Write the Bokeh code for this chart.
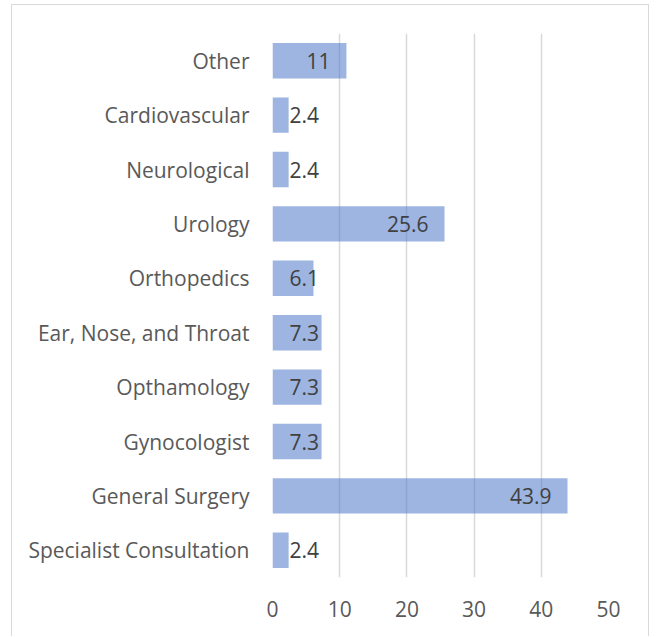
from bokeh.plotting import figure
from bokeh.models import ColumnDataSource, FixedTicker
from bokeh.core.properties import value
from bokeh.embed import file_html
from bokeh.resources import INLINE

categories = ["Specialist Consultation", "General Surgery", "Gynocologist", "Opthamology",
              "Ear, Nose, and Throat", "Orthopedics", "Urology", "Neurological",
              "Cardiovascular", "Other"]
values = [2.4, 43.9, 7.3, 7.3, 7.3, 6.1, 25.6, 2.4, 2.4, 11]
x_ticks = [0, 10, 20, 30, 40, 50]

FONT = "Open Sans"
FS = "21px"

short = [v < 10 for v in values]
src = ColumnDataSource(dict(
    cat=categories,
    val=values,
    lx=[0 if s else v for s, v in zip(short, values)],
    align=["left" if s else "right" for s in short],
    xoff=[17 if s else -16 for s in short],
    lab=[f"{v:g}" for v in values],
))

p = figure(y_range=categories, x_range=(0, 50), width=638, height=632,
           output_backend="svg", toolbar_location=None,
           min_border_left=260, min_border_right=42, min_border_top=28, min_border_bottom=60)
p.styles = {"border-left": "1px solid #d9d9d9", "border-top": "1px solid #d9d9d9",
            "border-right": "1px solid #d9d9d9", "margin-left": "11px", "margin-top": "4px"}
p.outline_line_color = None

p.hbar(y="cat", right="val", left=0, height=0.65, source=src,
       fill_color="#4472C4", fill_alpha=0.52, line_color=None)
p.text(x="lx", y="cat", text="lab", source=src, text_align="align", x_offset="xoff",
       text_baseline="middle", text_color="#404040", text_font=value(FONT), text_font_size=FS)

p.xgrid.ticker = FixedTicker(ticks=x_ticks)
p.xgrid.grid_line_color = "#d9d9d9"
p.xgrid.grid_line_width = 1.5
p.ygrid.grid_line_color = None

p.xaxis.ticker = FixedTicker(ticks=x_ticks)
p.xaxis.axis_line_color = None
p.xaxis.major_tick_line_color = None
p.xaxis.minor_tick_line_color = None
p.xaxis.major_tick_out = 0
p.xaxis.major_label_standoff = 23
p.xaxis.major_label_text_font = FONT
p.xaxis.major_label_text_font_size = FS
p.xaxis.major_label_text_color = "#595959"

p.yaxis.axis_line_color = None
p.yaxis.major_tick_line_color = None
p.yaxis.major_tick_out = 0
p.yaxis.major_label_standoff = 23
p.yaxis.major_label_text_font = FONT
p.yaxis.major_label_text_font_size = FS
p.yaxis.major_label_text_color = "#595959"

open("out.html", "w").write(file_html(p, INLINE))
